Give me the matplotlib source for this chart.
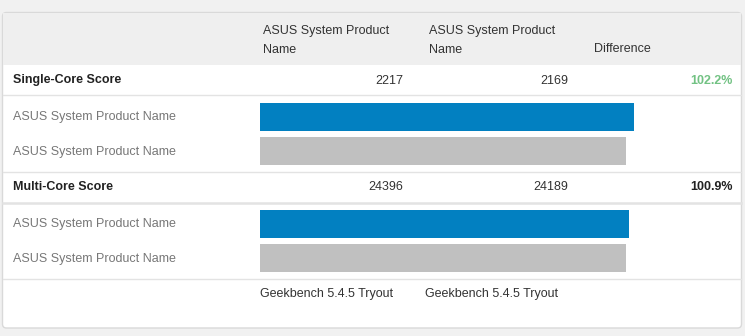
import matplotlib.pyplot as plt
from matplotlib.patches import FancyBboxPatch, Rectangle

plt.rcParams['font.family'] = ['Liberation Sans', 'DejaVu Sans']

# data
device_names = ['ASUS System Product\nName', 'ASUS System Product\nName']
bar_labels = ['ASUS System Product Name', 'ASUS System Product Name']
sections = ['Single-Core Score', 'Multi-Core Score']
scores_a = [2217, 24396]
scores_b = [2169, 24189]
differences = ['102.2%', '100.9%']
diff_colors = ['#72c283', '#222222']
versions = ['Geekbench 5.4.5 Tryout', 'Geekbench 5.4.5 Tryout']

W, H = 745, 336
fig = plt.figure(figsize=(W / 100, H / 100), dpi=100)
fig.patch.set_facecolor('#f1f1f1')

ax = fig.add_axes([0, 0, 1, 1])
ax.set_xlim(0, W)
ax.set_ylim(H, 0)
ax.axis('off')

# white panel with grey header band
ax.add_patch(FancyBboxPatch((2.5, 12.5), 739, 315.5, boxstyle='round,pad=0,rounding_size=4',
                            facecolor='white', edgecolor='#d9d9d9', lw=1, zorder=1))
ax.add_patch(Rectangle((3, 13), 738, 52, facecolor='#efefef', edgecolor='none', zorder=2))

# separators
for y, lw in [(95, 1), (172, 1), (203, 1.8), (279, 1)]:
    ax.plot([3, 741], [y, y], color='#e3e3e3', lw=lw, zorder=2)

txt = dict(fontsize=9, color='#333333', zorder=3)
col_x = [263, 429]
for x, name in zip(col_x, device_names):
    ax.text(x, 40.5, name, ha='left', va='center', linespacing=1.86, **txt)
ax.text(594, 48.5, 'Difference', ha='left', va='center', **txt)

row_y = [80.5, 187.5]
bar_top = [103, 210]
for i, sec in enumerate(sections):
    y = row_y[i]
    ax.text(13, y, sec, ha='left', va='center', fontsize=9, fontweight='bold',
            color='#222222', zorder=3)
    ax.text(403, y, str(scores_a[i]), ha='right', va='center', **txt)
    ax.text(568, y, str(scores_b[i]), ha='right', va='center', **txt)
    ax.text(733, y, differences[i], ha='right', va='center', fontsize=9,
            fontweight='bold', color=diff_colors[i], zorder=3)

    # bars in their own axes, scaled per section
    top = bar_top[i]
    right = 634 if i == 0 else 629
    bax = fig.add_axes([260 / W, 1 - (top + 62) / H, (right - 260) / W, 62 / H])
    bax.set_xlim(0, scores_a[i])
    bax.set_ylim(1.4, -0.4)
    bax.barh([0, 1], [scores_a[i], scores_b[i]], height=0.8,
             color=['#0280c1', '#c0c0c0'])
    bax.axis('off')
    bax.patch.set_alpha(0)

    for j, lab in enumerate(bar_labels):
        ax.text(13, top + 14 + j * 35, lab, ha='left', va='center', fontsize=9,
                color='#777777', zorder=3)

for x, v in zip([260, 425], versions):
    ax.text(x, 294.5, v, ha='left', va='center', **txt)

fig.savefig('out.png', dpi=100, facecolor=fig.get_facecolor())
